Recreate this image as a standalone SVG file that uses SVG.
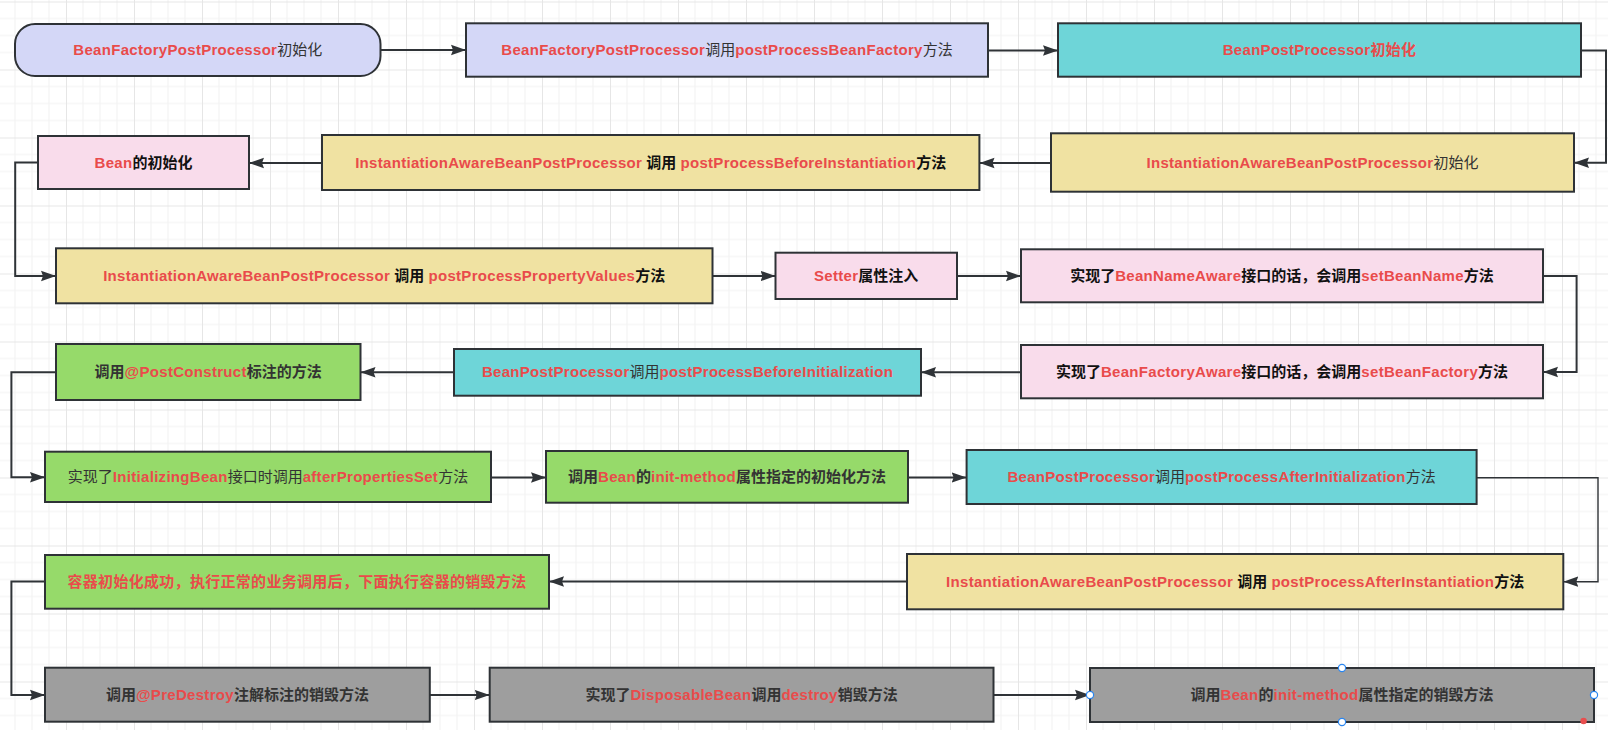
<svg xmlns="http://www.w3.org/2000/svg" width="1608" height="730" viewBox="0 0 1608 730">
<style>
.box{stroke:#2E3236;stroke-width:2}
.lav{fill:#D4D7F7}.cy{fill:#6ED5D8}.ye{fill:#F0E2A2}.pk{fill:#F9DCEB}.gr{fill:#96DA6A}.gy{fill:#9E9E9E}
text{font-family:"Liberation Sans","Noto Sans CJK SC",sans-serif;font-size:15px;text-anchor:middle}
.r{fill:#E94B4B;font-weight:bold;letter-spacing:0.3px}
.k{fill:#111111;font-weight:bold}
.g{fill:#333333;font-weight:normal}
.gb{fill:#333333;font-weight:bold}
.conn{fill:none;stroke:#2F3337;stroke-width:2}
.thin{stroke-width:1.4}
.hdl{fill:#FFFFFF;stroke:#2A86F0;stroke-width:1.2}
</style>
<defs>
<pattern id="grid" width="68" height="68" patternUnits="userSpaceOnUse" patternTransform="translate(-2,1.5)">
<path d="M17,0V68M34,0V68M51,0V68M0,17H68M0,34H68M0,51H68" stroke="#F1F1F1" stroke-width="1" fill="none"/>
<path d="M0.5,0V68M0,0.5H68" stroke="#E6E6E6" stroke-width="1" fill="none"/>
</pattern>
<marker id="arr" markerUnits="userSpaceOnUse" markerWidth="16" markerHeight="12" viewBox="0 0 16 12" refX="15" refY="6" orient="auto">
<path d="M0,0.8 L15,6 L0,11.2 L2,6 Z" fill="#2F3337"/>
</marker>
</defs>
<rect width="1608" height="730" fill="#FFFFFF"/>
<rect width="1608" height="730" fill="url(#grid)"/>

<g id="connectors">
<path class="conn" marker-end="url(#arr)" d="M380.5,50 H466"/>
<path class="conn" marker-end="url(#arr)" d="M988,50.5 H1058"/>
<path class="conn" marker-end="url(#arr)" d="M1581,50.5 H1606 V162.7 H1574"/>
<path class="conn" marker-end="url(#arr)" d="M1051,163 H979.5"/>
<path class="conn" marker-end="url(#arr)" d="M322,163 H249"/>
<path class="conn" marker-end="url(#arr)" d="M38,162.5 H15.2 V276 H56"/>
<path class="conn" marker-end="url(#arr)" d="M712.5,276 H775.5"/>
<path class="conn" marker-end="url(#arr)" d="M957,276 H1021"/>
<path class="conn" marker-end="url(#arr)" d="M1543,276 H1576.6 V372 H1543"/>
<path class="conn" marker-end="url(#arr)" d="M1021,372.3 H921"/>
<path class="conn" marker-end="url(#arr)" d="M454,372.3 H360.5"/>
<path class="conn" marker-end="url(#arr)" d="M56,372.3 H11.4 V477.3 H45"/>
<path class="conn" marker-end="url(#arr)" d="M491,477.5 H546"/>
<path class="conn" marker-end="url(#arr)" d="M908,477.5 H966.6"/>
<path class="conn thin" marker-end="url(#arr)" d="M1476.6,477.7 H1598 V581.7 H1563.3"/>
<path class="conn" marker-end="url(#arr)" d="M907,581.5 H549"/>
<path class="conn" marker-end="url(#arr)" d="M45,581.5 H11.4 V695 H45"/>
<path class="conn" marker-end="url(#arr)" d="M429.8,695 H489.7"/>
<path class="conn" marker-end="url(#arr)" d="M993.5,695 H1090"/>
</g>

<g id="n1">
<rect class="box lav" x="15" y="24" width="365.5" height="52" rx="20" ry="20"/>
<text x="197.8" y="55"><tspan class="r">BeanFactoryPostProcessor</tspan><tspan class="g">初始化</tspan></text>
</g>
<g id="n2">
<rect class="box lav" x="466" y="23.3" width="522" height="53.4"/>
<text x="727" y="55"><tspan class="r">BeanFactoryPostProcessor</tspan><tspan class="g">调用</tspan><tspan class="r">postProcessBeanFactory</tspan><tspan class="g">方法</tspan></text>
</g>
<g id="n3">
<rect class="box cy" x="1058" y="23.3" width="523" height="53.4"/>
<text x="1319.5" y="55"><tspan class="r">BeanPostProcessor初始化</tspan></text>
</g>
<g id="n4">
<rect class="box ye" x="1051" y="133.3" width="523" height="58.4"/>
<text x="1312.5" y="167.5"><tspan class="r">InstantiationAwareBeanPostProcessor</tspan><tspan class="g">初始化</tspan></text>
</g>
<g id="n5">
<rect class="box ye" x="322" y="135" width="657.4" height="55"/>
<text x="650.7" y="167.5"><tspan class="r">InstantiationAwareBeanPostProcessor</tspan><tspan class="k"> 调用 </tspan><tspan class="r">postProcessBeforeInstantiation</tspan><tspan class="k">方法</tspan></text>
</g>
<g id="n6">
<rect class="box pk" x="38" y="136" width="211" height="53"/>
<text x="143.5" y="167.5"><tspan class="r">Bean</tspan><tspan class="k">的初始化</tspan></text>
</g>
<g id="n7">
<rect class="box ye" x="56" y="248.3" width="656.5" height="55"/>
<text x="384.2" y="281"><tspan class="r">InstantiationAwareBeanPostProcessor</tspan><tspan class="k"> 调用 </tspan><tspan class="r">postProcessPropertyValues</tspan><tspan class="k">方法</tspan></text>
</g>
<g id="n8">
<rect class="box pk" x="775.5" y="252.7" width="181.5" height="46.3"/>
<text x="866.2" y="281"><tspan class="r">Setter</tspan><tspan class="k">属性注入</tspan></text>
</g>
<g id="n9">
<rect class="box pk" x="1021" y="249.3" width="522" height="53"/>
<text x="1282" y="281"><tspan class="k">实现了</tspan><tspan class="r">BeanNameAware</tspan><tspan class="k">接口的话，会调用</tspan><tspan class="r">setBeanName</tspan><tspan class="k">方法</tspan></text>
</g>
<g id="n10">
<rect class="box pk" x="1021" y="345" width="522" height="53.3"/>
<text x="1282" y="377"><tspan class="k">实现了</tspan><tspan class="r">BeanFactoryAware</tspan><tspan class="k">接口的话，会调用</tspan><tspan class="r">setBeanFactory</tspan><tspan class="k">方法</tspan></text>
</g>
<g id="n11">
<rect class="box cy" x="454" y="349" width="467" height="46.7"/>
<text x="687.5" y="377.3"><tspan class="r">BeanPostProcessor</tspan><tspan class="g">调用</tspan><tspan class="r">postProcessBeforeInitialization</tspan></text>
</g>
<g id="n12">
<rect class="box gr" x="56" y="344" width="304.5" height="56"/>
<text x="208.2" y="377"><tspan class="gb">调用</tspan><tspan class="r">@PostConstruct</tspan><tspan class="gb">标注的方法</tspan></text>
</g>
<g id="n13">
<rect class="box gr" x="45" y="451.7" width="446" height="50.3"/>
<text x="268" y="482"><tspan class="g">实现了</tspan><tspan class="r">InitializingBean</tspan><tspan class="g">接口时调用</tspan><tspan class="r">afterPropertiesSet</tspan><tspan class="g">方法</tspan></text>
</g>
<g id="n14">
<rect class="box gr" x="546" y="451" width="362" height="51.7"/>
<text x="727" y="482"><tspan class="gb">调用</tspan><tspan class="r">Bean</tspan><tspan class="gb">的</tspan><tspan class="r">init-method</tspan><tspan class="gb">属性指定的初始化方法</tspan></text>
</g>
<g id="n15">
<rect class="box cy" x="966.6" y="450" width="510" height="54"/>
<text x="1221.6" y="482"><tspan class="r">BeanPostProcessor</tspan><tspan class="g">调用</tspan><tspan class="r">postProcessAfterInitialization</tspan><tspan class="g">方法</tspan></text>
</g>
<g id="n16">
<rect class="box ye" x="907" y="554" width="656.3" height="55.3"/>
<text x="1235.2" y="586.7"><tspan class="r">InstantiationAwareBeanPostProcessor</tspan><tspan class="k"> 调用 </tspan><tspan class="r">postProcessAfterInstantiation</tspan><tspan class="k">方法</tspan></text>
</g>
<g id="n17">
<rect class="box gr" x="45" y="555" width="504" height="53.7"/>
<text x="297" y="586.7"><tspan class="r">容器初始化成功，执行正常的业务调用后，下面执行容器的销毁方法</tspan></text>
</g>
<g id="n18">
<rect class="box gy" x="45" y="667.7" width="384.8" height="54"/>
<text x="237.4" y="700"><tspan class="gb">调用</tspan><tspan class="r">@PreDestroy</tspan><tspan class="gb">注解标注的销毁方法</tspan></text>
</g>
<g id="n19">
<rect class="box gy" x="489.7" y="667.7" width="503.8" height="54"/>
<text x="741.6" y="700"><tspan class="gb">实现了</tspan><tspan class="r">DisposableBean</tspan><tspan class="gb">调用</tspan><tspan class="r">destroy</tspan><tspan class="gb">销毁方法</tspan></text>
</g>
<g id="n20">
<rect class="box gy" x="1090" y="668" width="504" height="54"/>
<text x="1342" y="700"><tspan class="gb">调用</tspan><tspan class="r">Bean</tspan><tspan class="gb">的</tspan><tspan class="r">init-method</tspan><tspan class="gb">属性指定的销毁方法</tspan></text>
</g>
<g id="selection-handles">
<circle class="hdl" cx="1342" cy="668" r="3.6"/>
<circle class="hdl" cx="1342" cy="722" r="3.6"/>
<circle class="hdl" cx="1090" cy="695" r="3.6"/>
<circle class="hdl" cx="1594" cy="695" r="3.6"/>
<circle cx="1583.6" cy="721" r="3.2" fill="#E84E4E"/>
</g>
</svg>
